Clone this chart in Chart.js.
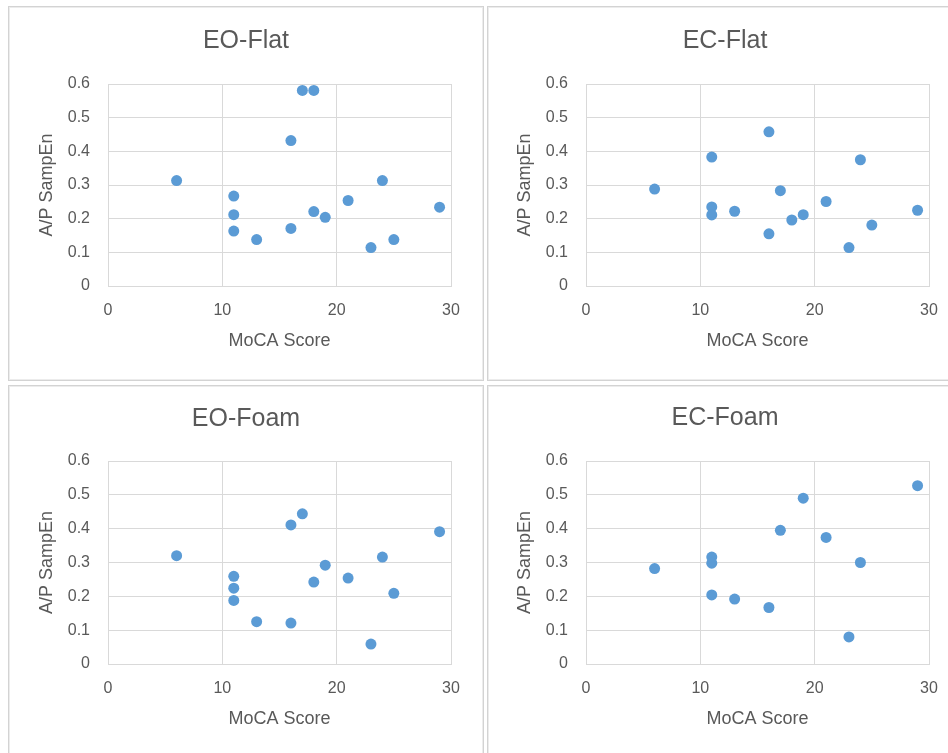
<!DOCTYPE html>
<html><head><meta charset="utf-8">
<script src="https://cdn.jsdelivr.net/npm/chart.js@4.4.1/dist/chart.umd.min.js"></script>
<style>
html,body{margin:0;padding:0;background:#fff;width:948px;height:753px;overflow:hidden;}
#wrap{position:relative;width:948px;height:753px;overflow:hidden;background:#fff;}
.panel{position:absolute;box-sizing:border-box;border:1px solid #d3d3d3;box-shadow:inset 0 0 0 1px #ececec;}
canvas{position:absolute;}
</style></head><body><div id="wrap"></div>
<script>
// ---- data ----
const xTicks = [0, 10, 20, 30];
const yTicks = [0, 0.1, 0.2, 0.3, 0.4, 0.5, 0.6];
const xAxisTitle = 'MoCA Score';
const yAxisTitle = 'A/P SampEn';
const titles = ['EO-Flat', 'EC-Flat', 'EO-Foam', 'EC-Foam'];

const eoFlatX = [6, 11, 11, 11, 13, 16, 16, 17, 18, 18, 19, 21, 23, 24, 25, 29];
const eoFlatY = [0.313, 0.267, 0.212, 0.163, 0.138, 0.432, 0.171, 0.581, 0.581, 0.221, 0.204, 0.254, 0.114, 0.313, 0.138, 0.234];

const ecFlatX = [6, 11, 11, 11, 13, 16, 16, 17, 18, 19, 21, 23, 24, 25, 29];
const ecFlatY = [0.288, 0.383, 0.235, 0.211, 0.222, 0.458, 0.155, 0.283, 0.196, 0.212, 0.251, 0.114, 0.375, 0.181, 0.225];

const eoFoamX = [6, 11, 11, 11, 13, 16, 16, 17, 18, 19, 21, 23, 24, 25, 29];
const eoFoamY = [0.320, 0.259, 0.224, 0.188, 0.125, 0.411, 0.121, 0.444, 0.242, 0.292, 0.254, 0.059, 0.316, 0.209, 0.391];

const ecFoamX = [6, 11, 11, 11, 13, 16, 17, 19, 21, 23, 24, 29];
const ecFoamY = [0.282, 0.316, 0.298, 0.204, 0.192, 0.167, 0.395, 0.490, 0.374, 0.080, 0.300, 0.527];

// ---- layout (page pixels) ----
const FONT = "'Liberation Sans', Arial, sans-serif";
const TEXT = '#595959';
const GRID = '#D9D9D9';
const panels = [
  {title: titles[0], xs: eoFlatX, ys: eoFlatY, x: 8,   y: 6,   w: 476, h: 375, plotL: 108, plotR: 451, plotT: 84,  plotB: 286, titleY: 41},
  {title: titles[1], xs: ecFlatX, ys: ecFlatY, x: 487, y: 6,   w: 476, h: 375, plotL: 586, plotR: 929, plotT: 84,  plotB: 286, titleY: 41},
  {title: titles[2], xs: eoFoamX, ys: eoFoamY, x: 8,   y: 385, w: 476, h: 370, plotL: 108, plotR: 451, plotT: 461, plotB: 664, titleY: 419},
  {title: titles[3], xs: ecFoamX, ys: ecFoamY, x: 487, y: 385, w: 476, h: 370, plotL: 586, plotR: 929, plotT: 461, plotB: 664, titleY: 418.5}
];

const wrap = document.getElementById('wrap');

function makeChart(p) {
  const panel = document.createElement('div');
  panel.className = 'panel';
  Object.assign(panel.style, {left: p.x + 'px', top: p.y + 'px', width: p.w + 'px', height: p.h + 'px'});
  wrap.appendChild(panel);
  const cv = document.createElement('canvas');
  cv.width = p.w; cv.height = p.h;
  Object.assign(cv.style, {left: p.x + 'px', top: p.y + 'px', width: p.w + 'px', height: p.h + 'px'});
  wrap.appendChild(cv);

  const plotL = p.plotL - p.x, plotR = p.plotR - p.x, plotT = p.plotT - p.y, plotB = p.plotB - p.y;
  const titleLH = 30;
  const titlePadTop = (p.titleY - p.y) - titleLH / 2;
  const titlePadBottom = plotT - titlePadTop - titleLH;
  const axLH = 18 * 1.2;
  const yTitlePad = (p.plotL - 60.5 - p.x) - axLH / 2;
  const xScaleH = p.h - plotB;
  const xTitlePad = (p.y + p.h) - (p.plotB + 55.3) - axLH / 2;

  new Chart(cv, {
    type: 'scatter',
    data: {
      datasets: [{
        data: p.xs.map((x, i) => ({x: x, y: p.ys[i]})),
        backgroundColor: '#5B9BD5',
        borderColor: '#5B9BD5',
        borderWidth: 0,
        pointRadius: 5.5,
        pointHoverRadius: 5.5
      }]
    },
    options: {
      responsive: false,
      animation: false,
      devicePixelRatio: 1,
      layout: {padding: 0},
      plugins: {
        legend: {display: false},
        tooltip: {enabled: false},
        title: {
          display: true, text: p.title, color: TEXT,
          font: {family: FONT, size: 25, weight: 'normal', lineHeight: 1.2},
          padding: {top: titlePadTop, bottom: titlePadBottom}
        }
      },
      scales: {
        x: {
          type: 'linear', position: 'bottom',
          min: xTicks[0], max: xTicks[xTicks.length - 1],
          ticks: {stepSize: xTicks[1] - xTicks[0], color: TEXT, font: {family: FONT, size: 16}, padding: 15},
          grid: {color: GRID, lineWidth: 1, drawTicks: false},
          border: {color: GRID, width: 1},
          title: {display: true, text: xAxisTitle, color: TEXT, font: {family: FONT, size: 18}, padding: {top: 0, bottom: xTitlePad}},
          afterFit: (s) => { s.height = xScaleH; }
        },
        y: {
          type: 'linear', position: 'left',
          min: yTicks[0], max: yTicks[yTicks.length - 1],
          ticks: {stepSize: 0.1, color: TEXT, font: {family: FONT, size: 16}, padding: 18,
                  callback: (v) => { const r = Math.round(v * 10) / 10; return yTicks.includes(r) ? String(r) : ''; }},
          grid: {color: GRID, lineWidth: 1, drawTicks: false},
          border: {color: GRID, width: 1},
          title: {display: true, text: yAxisTitle, color: TEXT, font: {family: FONT, size: 18}, padding: {top: yTitlePad, bottom: 0}},
          afterFit: (s) => { s.width = plotL; }
        },
        y2: {
          type: 'linear', position: 'right', display: true,
          ticks: {display: false},
          grid: {display: false, drawTicks: false},
          border: {display: false},
          afterFit: (s) => { s.width = p.w - plotR; }
        }
      }
    }
  });
}

panels.forEach(makeChart);
</script>
</body></html>
